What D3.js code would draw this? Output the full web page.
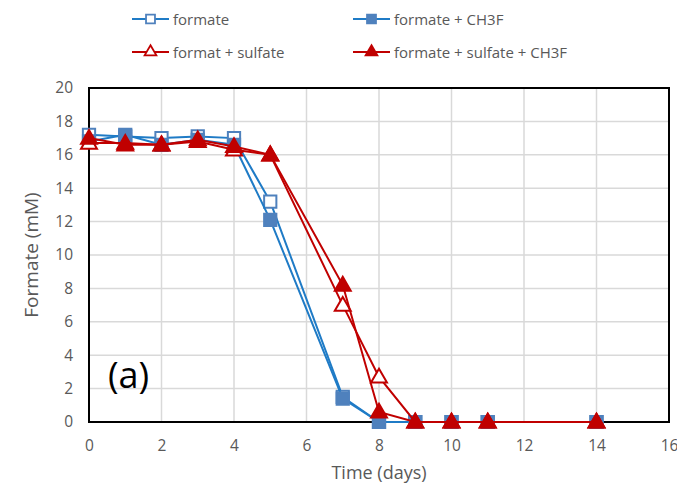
<!DOCTYPE html>
<html>
<head>
<meta charset="utf-8">
<script src="https://cdn.jsdelivr.net/npm/d3@7"></script>
<style>
  body { margin: 0; background: #fff; }
  text { font-family: "Open Sans", "Liberation Sans", sans-serif; }
</style>
</head>
<body>
<div id="chart"></div>
<script>
// data
const days = [0, 1, 2, 3, 4, 5, 7, 8, 9, 10, 11, 14];
const formate = [17.2, 17.1, 17.0, 17.1, 17.0, 13.2, 1.5, 0, 0, 0, 0, 0];
const formateCH3F = [16.8, 17.2, 16.6, 16.9, 16.6, 12.1, 1.4, 0, 0, 0, 0, 0];
const formatSulfate = [16.7, 16.7, 16.6, 16.8, 16.3, 16.0, 7.0, 2.7, 0, 0, 0, 0];
const formateSulfateCH3F = [17.0, 16.6, 16.6, 16.9, 16.5, 16.0, 8.2, 0.6, 0, 0, 0, 0];
const xTicks = [0, 2, 4, 6, 8, 10, 12, 14, 16];
const yTicks = [0, 2, 4, 6, 8, 10, 12, 14, 16, 18, 20];

const width = 677, height = 487;
const margin = { top: 88, right: 8, bottom: 65, left: 89 };

const blue = "#1f7bc6", markBlue = "#4f81bd", red = "#c00000";

const series = [
  { name: "formate", values: formate, line: blue, shape: "square", fill: "#fff", stroke: markBlue },
  { name: "formate + CH3F", values: formateCH3F, line: blue, shape: "square", fill: markBlue, stroke: markBlue },
  { name: "format + sulfate", values: formatSulfate, line: red, shape: "triangle", fill: "#fff", stroke: red },
  { name: "formate + sulfate + CH3F", values: formateSulfateCH3F, line: red, shape: "triangle", fill: red, stroke: red }
];

const svg = d3.select("#chart").append("svg")
  .attr("width", width)
  .attr("height", height);

const x = d3.scaleLinear().domain([0, 16]).range([margin.left, width - margin.right]);
const y = d3.scaleLinear().domain([0, 20]).range([height - margin.bottom, margin.top]);

// gridlines
svg.append("g")
  .selectAll("line.h")
  .data(yTicks.slice(1))
  .enter().append("line")
  .attr("x1", x(0)).attr("x2", x(16))
  .attr("y1", d => y(d)).attr("y2", d => y(d))
  .attr("stroke", "#d9d9d9").attr("stroke-width", 1.5);
svg.append("g")
  .selectAll("line.v")
  .data(xTicks.slice(1))
  .enter().append("line")
  .attr("x1", d => x(d)).attr("x2", d => x(d))
  .attr("y1", y(0)).attr("y2", y(20))
  .attr("stroke", "#d9d9d9").attr("stroke-width", 1.5);

// frame
svg.append("rect")
  .attr("x", x(0)).attr("y", y(20))
  .attr("width", x(16) - x(0)).attr("height", y(0) - y(20))
  .attr("fill", "none").attr("stroke", "#000").attr("stroke-width", 2);

// axes (labels only)
const xAxis = d3.axisBottom(x).tickValues(xTicks).tickSize(0).tickPadding(18);
const yAxis = d3.axisLeft(y).tickValues(yTicks).tickSize(0).tickPadding(16);
const gx = svg.append("g").attr("transform", `translate(0, ${y(0)})`).call(xAxis);
const gy = svg.append("g").attr("transform", `translate(${x(0)}, 0)`).call(yAxis);
[gx, gy].forEach(g => {
  g.select(".domain").remove();
  g.selectAll("text").attr("fill", "#595959").style("font-size", "15.5px");
});

svg.append("text")
  .attr("x", (x(0) + x(16)) / 2).attr("y", 479)
  .attr("text-anchor", "middle")
  .attr("fill", "#595959").style("font-size", "18px")
  .text("Time (days)");
svg.append("text")
  .attr("transform", `translate(38, ${(y(0) + y(20)) / 2}) rotate(-90)`)
  .attr("text-anchor", "middle")
  .attr("fill", "#595959").style("font-size", "19px")
  .text("Formate (mM)");

svg.append("text")
  .attr("x", 108).attr("y", 388)
  .attr("fill", "#000").style("font-size", "36px")
  .text("(a)");

const symSquare = d3.symbol().type(d3.symbolSquare).size(150);
const symTri = d3.symbol().type(d3.symbolTriangle).size(110);

const line = d3.line().x(d => x(d[0])).y(d => y(d[1]));

series.forEach(s => {
  const pts = days.map((d, i) => [d, s.values[i]]);
  svg.append("path")
    .datum(pts)
    .attr("d", line)
    .attr("fill", "none")
    .attr("stroke", s.line)
    .attr("stroke-width", 2);
  svg.append("g")
    .selectAll("path")
    .data(pts)
    .enter().append("path")
    .attr("transform", d => `translate(${x(d[0])}, ${y(d[1]) + (s.shape === "triangle" ? 1 : 0)})`)
    .attr("d", s.shape === "square" ? symSquare : symTri)
    .attr("fill", s.fill)
    .attr("stroke", s.stroke)
    .attr("stroke-width", 2);
});

// legend
const legendPos = [[132, 19], [353, 19], [132, 52], [353, 52]];
series.forEach((s, i) => {
  const [lx, ly] = legendPos[i];
  const g = svg.append("g").attr("transform", `translate(${lx}, ${ly})`);
  g.append("line").attr("x1", 0).attr("x2", 37).attr("y1", 0).attr("y2", 0)
    .attr("stroke", s.line).attr("stroke-width", 2);
  g.append("path")
    .attr("transform", "translate(18.5, 0)")
    .attr("d", s.shape === "square" ? d3.symbol().type(d3.symbolSquare).size(80)
      : d3.symbol().type(d3.symbolTriangle).size(60))
    .attr("fill", s.fill).attr("stroke", s.stroke).attr("stroke-width", 1.8);
  g.append("text")
    .attr("x", 41).attr("y", 5.5)
    .attr("fill", "#595959").style("font-size", "15px")
    .text(s.name);
});
</script>
</body>
</html>
